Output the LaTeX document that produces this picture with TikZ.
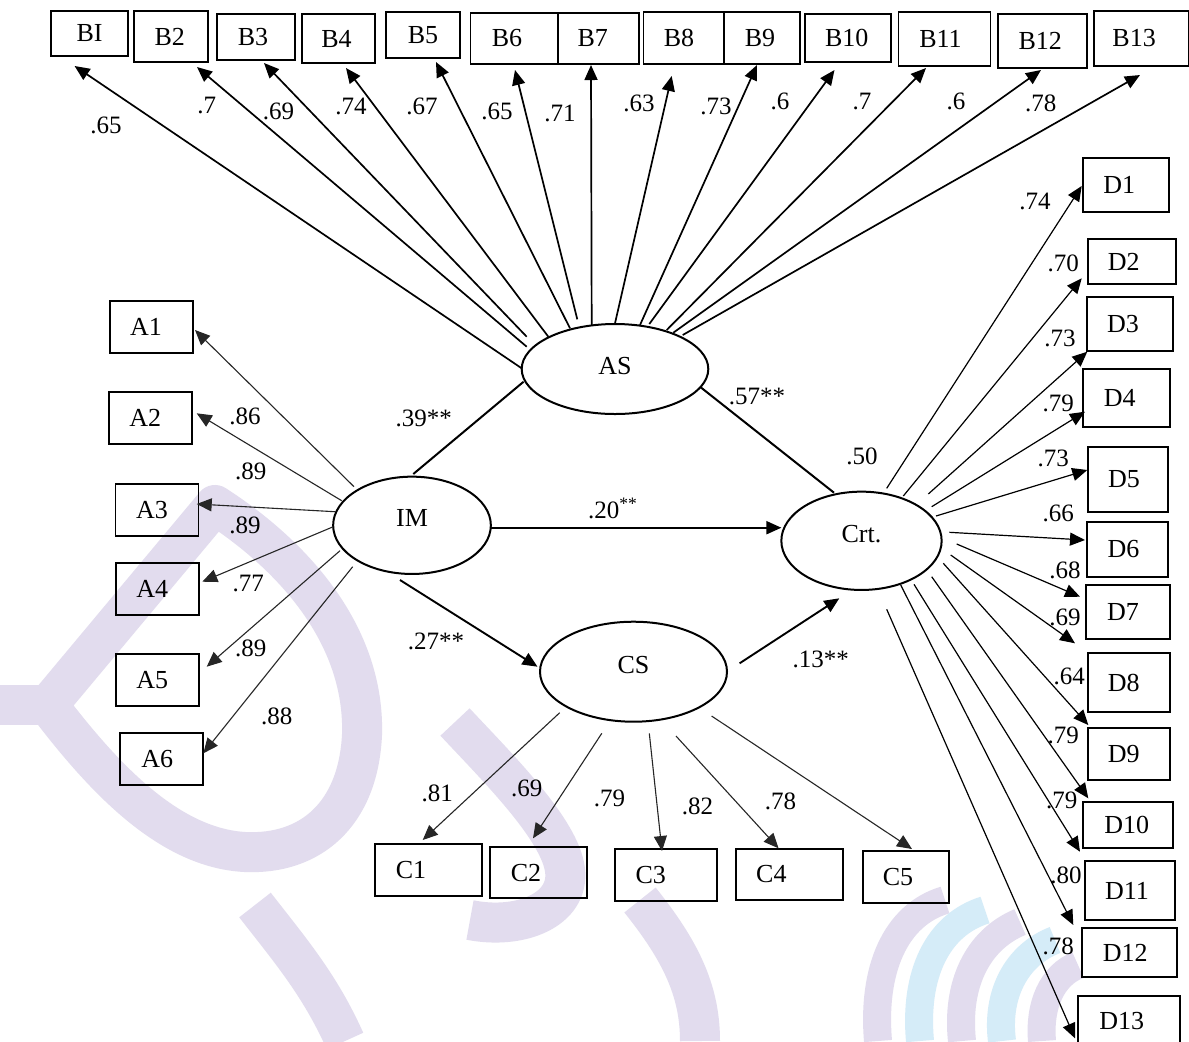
\documentclass[tikz,border=0pt]{standalone}
\usepackage{fontspec}
\setmainfont{Liberation Serif}
\usetikzlibrary{arrows.meta,shapes.geometric}
\definecolor{wmlav}{RGB}{226,220,238}
\definecolor{wmcyan}{RGB}{213,236,248}
\newcommand\mybox[6]{\node[box,minimum width=#4*0.5pt,minimum height=#5*0.5pt] (#1) at (#2,#3) {#6};}
\newcommand\lsh[1]{\rule{#1pt}{0pt}}
\begin{document}
\begin{tikzpicture}[x=0.5pt,y=-0.5pt,
  txt/.style={font=\fontsize{12.5}{15}\selectfont},
  btxt/.style={font=\fontsize{13}{15}\selectfont},
  box/.style={draw=black,line width=0.9pt,inner sep=0pt,btxt},
  ell/.style={ellipse,draw=black,line width=1pt,inner sep=0pt,btxt},
  lab/.style={inner sep=0pt,txt},
  tip/.style={-{Triangle[length=7.5pt,width=6.5pt]}},
  arrB/.style={tip,line width=0.85pt},
  arrT/.style={tip,line width=0.55pt,draw=black!85},
  arrD/.style={tip,line width=0.6pt},
  arrS/.style={tip,line width=0.95pt},
  pathS/.style={line width=1pt},
  wm/.style={draw=wmlav,line width=20pt},
  wmc/.style={draw=wmcyan,line width=14pt},
  wml/.style={draw=wmlav,line width=14pt}]
\useasboundingbox (0,0) rectangle (1189,1041);
\clip (0,0) rectangle (1189,1041);
\fill[white] (0,0) rectangle (1189,1041);
% ---------- watermark ----------
\draw[wm,line join=round] (215,505) .. controls (300,560) and (365,640) .. (362,735)
  .. controls (358,815) and (310,855) .. (245,852)
  .. controls (170,848) and (105,780) .. (48,705) -- cycle;
\draw[wm] (48,705) -- (0,705);
\draw[wm] (455,722) .. controls (500,770) and (560,830) .. (565,870)
  .. controls (570,910) and (520,930) .. (470,920);
\draw[wm] (255,905) .. controls (290,950) and (320,985) .. (345,1041);
\draw[wm] (640,900) .. controls (680,950) and (700,990) .. (700,1041);
\draw[wml] (878,1041) .. controls (872,970) and (895,915) .. (945,900);
\draw[wmc] (920,1041) .. controls (914,975) and (937,925) .. (985,910);
\draw[wml] (962,1041) .. controls (956,985) and (977,940) .. (1020,922);
\draw[wmc] (1002,1041) .. controls (996,995) and (1016,955) .. (1055,940);
\draw[wml] (1042,1041) .. controls (1039,1005) and (1052,975) .. (1078,965);
% ---------- latent variables ----------
\node[ell,minimum width=186.6*0.5pt,minimum height=90*0.5pt] (AS) at (615,369) {AS\rule[-3pt]{0pt}{3pt}};
\node[ell,minimum width=157.7*0.5pt,minimum height=97.3*0.5pt] (IM) at (412,525.3) {IM\rule[-7pt]{0pt}{7pt}};
\node[ell,minimum width=160.3*0.5pt,minimum height=98.3*0.5pt] (Crt) at (861.5,540.8) {Crt.\rule[-7pt]{0pt}{7pt}};
\node[ell,minimum width=187*0.5pt,minimum height=100*0.5pt] (CS) at (633.5,671.7) {CS\rule[-7pt]{0pt}{7pt}};
% ---------- B boxes ----------
\mybox{B1}{89.5}{33.5}{77}{45}{BI}
\mybox{B2}{170.7}{36.5}{74}{51}{B2\lsh{1}}
\mybox{B3}{256}{37}{78}{46}{B3\lsh{3}}
\mybox{B4}{338.5}{38.5}{73}{49}{B4\lsh{2}}
\mybox{B5}{423}{35}{74}{46}{B5}
\mybox{B6}{514}{38.3}{87}{51}{B6\lsh{7}}
\mybox{B7}{598.3}{38.3}{81}{51}{B7\lsh{5.5}}
\mybox{B8}{684}{38}{81}{52}{B8\lsh{5}}
\mybox{B9}{762}{38}{75.5}{52}{B9\lsh{2}}
\mybox{B10}{847.8}{38}{86}{48}{B10\lsh{1}}
\mybox{B11}{944.5}{39}{92}{54}{B11\lsh{4}}
\mybox{B12}{1042.3}{41}{88.6}{54}{B12\lsh{2}}
\mybox{B13}{1141.6}{38.5}{95}{55}{B13\lsh{7.5}}
% ---------- A boxes ----------
\mybox{A1}{151.4}{327}{83}{52}{A1\lsh{5.5}}
\mybox{A2}{150.3}{418.2}{83}{52}{A2\lsh{5}}
\mybox{A3}{157}{510}{83}{52}{A3\lsh{5}}
\mybox{A4}{157.3}{589.2}{83}{52}{A4\lsh{5}}
\mybox{A5}{157.3}{680}{83}{52}{A5\lsh{5}}
\mybox{A6}{161.7}{759.2}{83}{52}{A6\lsh{4.5}}
% ---------- C boxes ----------
\mybox{C1}{428.5}{870}{107}{52}{C1\lsh{17.5}}
\mybox{C2}{538.5}{872.8}{97.6}{51}{C2\lsh{12.5}}
\mybox{C3}{665.7}{874.7}{102}{52}{C3\lsh{15}}
\mybox{C4}{789.4}{874.3}{107}{51}{C4\lsh{18}}
\mybox{C5}{906}{876.7}{86.6}{52}{C5\lsh{8}}
% ---------- D boxes ----------
\mybox{D1}{1126.3}{185}{86}{53.4}{D1\lsh{7}}
\mybox{D2}{1131.8}{261.7}{88.3}{44.7}{D2\lsh{8}}
\mybox{D3}{1130}{323.7}{86.6}{54}{D3\lsh{7}}
\mybox{D4}{1126.7}{397.8}{86.7}{57.7}{D4\lsh{7}}
\mybox{D5}{1128}{479.5}{80.6}{65.6}{D5\lsh{4}}
\mybox{D6}{1127.5}{549.2}{81.6}{55}{D6\lsh{4}}
\mybox{D7}{1128}{612}{84}{54}{D7\lsh{5}}
\mybox{D8}{1128.8}{682.8}{82.3}{59}{D8\lsh{5}}
\mybox{D9}{1128.8}{754.2}{82.3}{51.7}{D9\lsh{5}}
\mybox{D10}{1128.3}{824.7}{90}{46}{D10\lsh{1.5}}
\mybox{D11}{1130}{890.5}{90}{59}{D11\lsh{3}}
\mybox{D12}{1129.2}{952.5}{95}{48.4}{D12\lsh{4}}
\mybox{D13}{1129.2}{1020.5}{101.7}{49}{D13\lsh{7.5}}
% ---------- AS -> B ----------
\draw[arrB] ([shift={(-93.3,-0.7)}]AS.center) -- ([shift={(-14.9,32.5)}]B1.center);
\draw[arrB] ([shift={(-88.3,-22.3)}]AS.center) -- ([shift={(26.3,30.5)}]B2.center);
\draw[arrB] ([shift={(-88.3,-32.3)}]AS.center) -- ([shift={(8,26)}]B3.center);
\draw[arrB] ([shift={(-66.7,-32.3)}]AS.center) -- ([shift={(7.5,29.5)}]B4.center);
\draw[arrB] ([shift={(-45,-40.7)}]AS.center) -- ([shift={(13,27)}]B5.center);
\draw[arrB] ([shift={(-37.7,-49.7)}]AS.center) -- ([shift={(1,31.7)}]B6.center);
\draw[arrB] ([shift={(-23.3,-44)}]AS.center) -- ([shift={(-7.3,26.7)}]B7.center);
\draw[arrB] ([shift={(0,-45.7)}]AS.center) -- ([shift={(-12.3,38)}]B8.center);
\draw[arrB] ([shift={(25,-44)}]AS.center) -- ([shift={(-5,27)}]B9.center);
\draw[arrB] ([shift={(34.3,-45)}]AS.center) -- ([shift={(-13.3,32)}]B10.center);
\draw[arrB] ([shift={(51.7,-39)}]AS.center) -- ([shift={(-18.5,29)}]B11.center);
\draw[arrB] ([shift={(58.3,-36.3)}]AS.center) -- ([shift={(-1.3,29)}]B12.center);
\draw[arrB] ([shift={(67.7,-34)}]AS.center) -- ([shift={(-1.6,36.5)}]B13.center);
% ---------- IM -> A ----------
\draw[arrT] ([shift={(-58,-38.6)}]IM.center) -- ([shift={(43.6,3)}]A1.center);
\draw[arrT] ([shift={(-70.3,-24.6)}]IM.center) -- ([shift={(46.4,-4.9)}]A2.center);
\draw[arrT] ([shift={(-77,-13.6)}]IM.center) -- ([shift={(39.7,-6)}]A3.center);
\draw[arrT] ([shift={(-78.7,1.4)}]IM.center) -- ([shift={(45,-7.5)}]A4.center);
\draw[arrT] ([shift={(-72,25.4)}]IM.center) -- ([shift={(49.4,-13.3)}]A5.center);
\draw[arrT] ([shift={(-59.3,41.4)}]IM.center) -- ([shift={(41.6,-5.9)}]A6.center);
% ---------- structural paths ----------
\draw[pathS] ([shift={(1.3,-51.3)}]IM.center) -- ([shift={(-91.4,12.7)}]AS.center);
\draw[pathS] ([shift={(85.7,18.3)}]AS.center) -- ([shift={(-27.5,-48.1)}]Crt.center);
\draw[arrS] ([shift={(78.3,2.4)}]IM.center) -- ([shift={(-80.1,-13.1)}]Crt.center);
\draw[arrS] ([shift={(-12,54.7)}]IM.center) -- ([shift={(-96,-5)}]CS.center);
\draw[arrS] ([shift={(106.1,-8.4)}]CS.center) -- ([shift={(-22.2,57.5)}]Crt.center);
% ---------- CS -> C ----------
\draw[arrT] ([shift={(-73.8,41)}]CS.center) -- ([shift={(-5.8,-30)}]C1.center);
\draw[arrT] ([shift={(-31.7,61.6)}]CS.center) -- ([shift={(-5.5,-34.5)}]C2.center);
\draw[arrT] ([shift={(15.8,61.6)}]CS.center) -- ([shift={(-3.7,-23.7)}]C3.center);
\draw[arrT] ([shift={(42.5,64.3)}]CS.center) -- ([shift={(-10.8,-26)}]C4.center);
\draw[arrT] ([shift={(78.1,44.3)}]CS.center) -- ([shift={(6,-27.7)}]C5.center);
% ---------- Crt -> D ----------
\draw[arrD] ([shift={(25.2,-52.5)}]Crt.center) -- ([shift={(-44.6,1)}]D1.center);
\draw[arrD] ([shift={(41.8,-44.8)}]Crt.center) -- ([shift={(-50.1,16.6)}]D2.center);
\draw[arrD] ([shift={(66.8,-46.8)}]Crt.center) -- ([shift={(-42.7,28)}]D3.center);
\draw[arrD] ([shift={(70.2,-34.1)}]Crt.center) -- ([shift={(-41.7,13.9)}]D4.center);
\draw[arrD] ([shift={(74.5,-24.8)}]Crt.center) -- ([shift={(-40.7,-9.5)}]D5.center);
\draw[arrD] ([shift={(87.8,-8.5)}]Crt.center) -- ([shift={(-42.5,-9.2)}]D6.center);
\draw[arrD] ([shift={(95.2,3.2)}]Crt.center) -- ([shift={(-48,-15.3)}]D7.center);
\draw[arrD] ([shift={(89.2,14.2)}]Crt.center) -- ([shift={(-53.8,-39.5)}]D8.center);
\draw[arrD] ([shift={(81.8,22.5)}]Crt.center) -- ([shift={(-40.5,-29.2)}]D9.center);
\draw[arrD] ([shift={(70.2,35.9)}]Crt.center) -- ([shift={(-40,-26.4)}]D10.center);
\draw[arrD] ([shift={(52.5,43.5)}]Crt.center) -- ([shift={(-50,-38.8)}]D11.center);
\draw[arrD] ([shift={(39.2,44.2)}]Crt.center) -- ([shift={(-55.9,-27.5)}]D12.center);
\draw[arrD] ([shift={(25.2,68.5)}]Crt.center) -- ([shift={(-54.2,17.8)}]D13.center);
% ---------- labels: B ----------
\node[lab] (lb1) at (106,125) {.65};
\node[lab] (lb2) at (206.7,105) {.7};
\node[lab] (lb3) at (278.6,111.7) {.69};
\node[lab] (lb4) at (351,106.7) {.74};
\node[lab] (lb5) at (422,106.7) {.67};
\node[lab] (lb6) at (497,111.7) {.65};
\node[lab] (lb7) at (560,113) {.71};
\node[lab] (lb8) at (639,103) {.63};
\node[lab] (lb9) at (716,106) {.73};
\node[lab] (lb10) at (780,101.7) {.6};
\node[lab] (lb11) at (862,101.7) {.7};
\node[lab] (lb12) at (956,101.7) {.6};
\node[lab] (lb13) at (1040.7,103) {.78};
% ---------- labels: A ----------
\node[lab] (la1) at (245,416.7) {.86};
\node[lab] (la2) at (250.7,471.7) {.89};
\node[lab] (la3) at (245,525) {.89};
\node[lab] (la4) at (248.3,583.3) {.77};
\node[lab] (la5) at (250.7,648.3) {.89};
\node[lab] (la6) at (276.7,716.7) {.88};
% ---------- labels: structural ----------
\node[lab] (ls1) at (423.7,418.3) {.39**};
\node[lab] (ls2) at (757,396.7) {.57**};
\node[lab] (ls3) at (862,456.7) {.50};
\node[lab] (ls4) at (613,508.3) {.20\textsuperscript{**}};
\node[lab] (ls5) at (436,641.7) {.27**};
\node[lab] (ls6) at (820.7,659.3) {.13**};
% ---------- labels: C ----------
\node[lab] (lc1) at (437.3,793.3) {.81};
\node[lab] (lc2) at (526.8,788.3) {.69};
\node[lab] (lc3) at (609.5,798.3) {.79};
\node[lab] (lc4) at (697.5,806.7) {.82};
\node[lab] (lc5) at (780.5,801.7) {.78};
% ---------- labels: D ----------
\node[lab] (ld1) at (1035,201.7) {.74};
\node[lab] (ld2) at (1063.3,263.3) {.70};
\node[lab] (ld3) at (1060,338.3) {.73};
\node[lab] (ld4) at (1058.3,403.3) {.79};
\node[lab] (ld5) at (1053.3,458.3) {.73};
\node[lab] (ld6) at (1058.3,513.3) {.66};
\node[lab] (ld7) at (1065,570.7) {.68};
\node[lab] (ld8) at (1065,617.3) {.69};
\node[lab] (ld9) at (1069.3,676.7) {.64};
\node[lab] (ld10) at (1063.3,735) {.79};
\node[lab] (ld11) at (1061.7,800) {.79};
\node[lab] (ld12) at (1066,875) {.80};
\node[lab] (ld13) at (1058.3,946) {.78};
\end{tikzpicture}
\end{document}
